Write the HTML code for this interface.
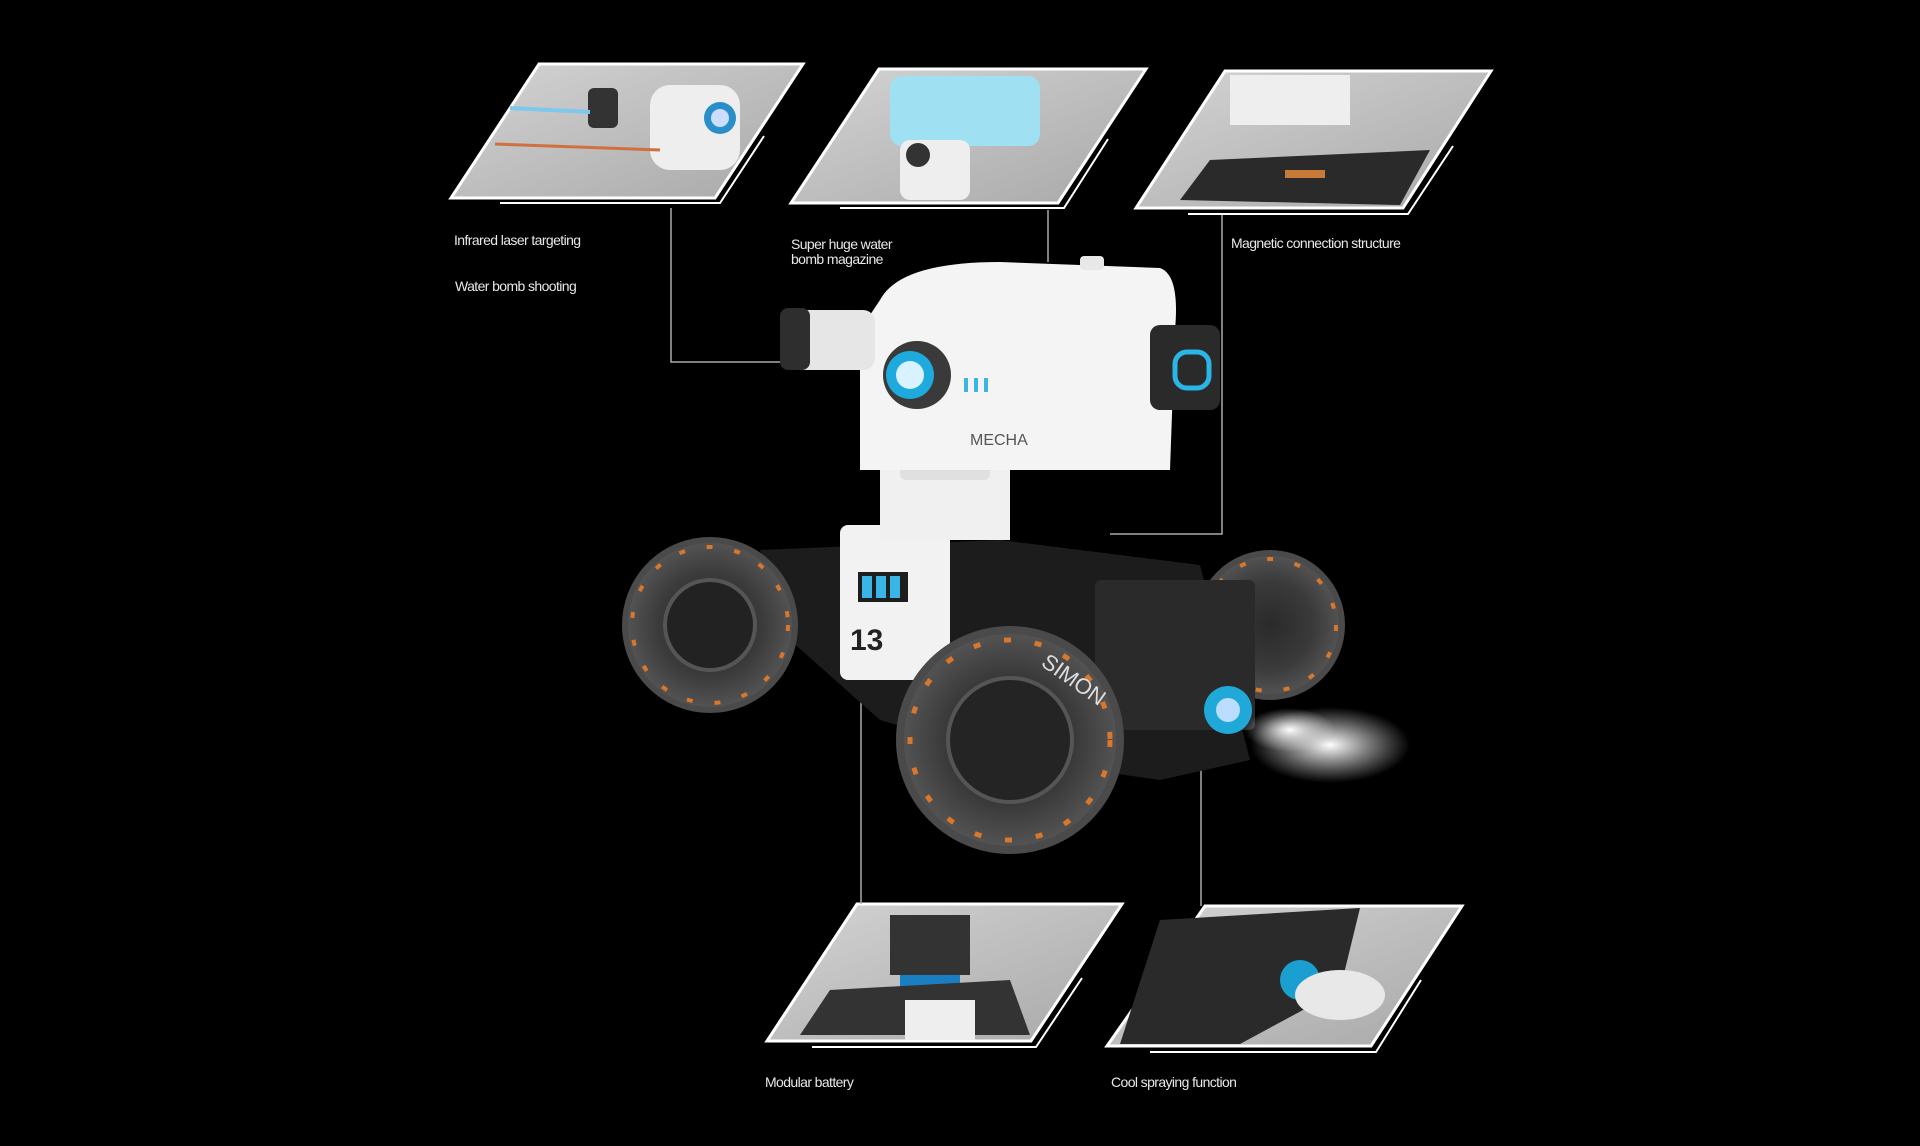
<!DOCTYPE html>
<html><head><meta charset="utf-8"><style>
html,body{margin:0;padding:0;background:#000;}
body{width:1920px;height:1146px;overflow:hidden;position:relative;font-family:"Liberation Sans Narrow","Liberation Sans",sans-serif;}
.l{position:absolute;color:#e8e8e8;font-size:14px;letter-spacing:-0.6px;line-height:15px;white-space:nowrap;}
svg{position:absolute;left:0;top:0;}
</style></head><body>
<svg width="1920" height="1146" viewBox="0 0 1920 1146">
<defs>
<linearGradient id="pg" x1="0" y1="0" x2="1" y2="1"><stop offset="0" stop-color="#d4d4d4"/><stop offset="1" stop-color="#a8a8a8"/></linearGradient>
<radialGradient id="wh" cx="0.5" cy="0.5" r="0.5"><stop offset="0" stop-color="#2a2a2a"/><stop offset="0.6" stop-color="#3a3a3a"/><stop offset="1" stop-color="#555"/></radialGradient>
<radialGradient id="cl" cx="0.5" cy="0.5" r="0.5"><stop offset="0" stop-color="#fff"/><stop offset="1" stop-color="#ddd" stop-opacity="0"/></radialGradient>
</defs>
<g stroke="#fff" stroke-width="3" fill="url(#pg)">
<polygon points="539,64 803,64 715,198 451,198"/>
<polygon points="879,69 1146,69 1058,203 791,203"/>
<polygon points="1225,71 1491,71 1403,208 1136,208"/>
<polygon points="857,904 1122,904 1031,1041 767,1041"/>
<polygon points="1205,906 1462,906 1371,1046 1107,1046"/>
</g>
<g stroke="#fff" stroke-width="2" fill="none">
<polyline points="764,136 720,203 500,203"/>
<polyline points="1108,139 1064,208 840,208"/>
<polyline points="1453,146 1408,214 1188,214"/>
<polyline points="1082,978 1036,1047 812,1047"/>
<polyline points="1421,980 1376,1052 1150,1052"/>
</g>
<rect x="650" y="85" width="90" height="85" rx="20" fill="#eee"/>
<circle cx="720" cy="118" r="16" fill="#2a8fc8"/><circle cx="720" cy="118" r="9" fill="#cdf"/>
<rect x="588" y="88" width="30" height="40" rx="6" fill="#333"/>
<line x1="495" y1="144" x2="660" y2="150" stroke="#d07040" stroke-width="3"/>
<line x1="510" y1="108" x2="590" y2="112" stroke="#7cc8ee" stroke-width="4"/>
<rect x="890" y="76" width="150" height="70" rx="12" fill="#9fe0f2"/>
<rect x="900" y="140" width="70" height="60" rx="10" fill="#eee"/>
<circle cx="918" cy="155" r="12" fill="#333"/>
<rect x="1230" y="75" width="120" height="50" fill="#eee"/>
<polygon points="1180,200 1210,160 1430,150 1400,205" fill="#2a2a2a"/>
<rect x="1285" y="170" width="40" height="8" fill="#c77a3a"/>
<rect x="890" y="915" width="80" height="60" fill="#333"/>
<rect x="900" y="975" width="60" height="25" fill="#1a7fc0"/>
<polygon points="800,1035 830,990 1010,980 1030,1035" fill="#333"/>
<rect x="905" y="1000" width="70" height="40" fill="#eee"/>
<polygon points="1120,1044 1160,920 1360,908 1340,990 1240,1044" fill="#2a2a2a"/>
<circle cx="1300" cy="980" r="20" fill="#1a9fd0"/>
<ellipse cx="1340" cy="995" rx="45" ry="25" fill="#e8e8e8"/>
<g stroke="#aaa" stroke-width="1.5" fill="none">
<polyline points="671,208 671,362 784,362"/>
<polyline points="1048,210 1048,262"/>
<polyline points="1222,215 1222,534 1110,534"/>
<polyline points="861,686 861,904"/>
<polyline points="1201,759 1201,906"/>
</g>
<polygon points="760,550 1000,540 1200,565 1250,760 1160,780 1020,760 880,720 790,640" fill="#1c1c1c"/>
<circle cx="710" cy="625" r="85" fill="url(#wh)" stroke="#4a4a4a" stroke-width="6"/>
<circle cx="710" cy="625" r="78" fill="none" stroke="#d9772c" stroke-width="4" stroke-dasharray="6 22"/>
<circle cx="710" cy="625" r="45" fill="#222" stroke="#555" stroke-width="4"/>
<circle cx="1270" cy="625" r="72" fill="url(#wh)" stroke="#4a4a4a" stroke-width="6"/>
<circle cx="1270" cy="625" r="66" fill="none" stroke="#d9772c" stroke-width="4" stroke-dasharray="6 22"/>
<rect x="840" y="525" width="110" height="155" rx="8" fill="#f2f2f2"/>
<rect x="858" y="572" width="50" height="30" fill="#1e1e1e"/>
<rect x="862" y="576" width="10" height="22" fill="#3ab6e6"/><rect x="876" y="576" width="10" height="22" fill="#3ab6e6"/><rect x="890" y="576" width="10" height="22" fill="#3ab6e6"/>
<text x="850" y="650" font-family="Liberation Sans" font-size="30" font-weight="bold" fill="#222">13</text>
<rect x="1095" y="580" width="160" height="150" rx="6" fill="#2a2a2a"/>
<circle cx="1010" cy="740" r="110" fill="url(#wh)" stroke="#4a4a4a" stroke-width="8"/>
<circle cx="1010" cy="740" r="100" fill="none" stroke="#d9772c" stroke-width="5" stroke-dasharray="7 24"/>
<circle cx="1010" cy="740" r="62" fill="#242424" stroke="#555" stroke-width="4"/>
<text x="1040" y="665" font-family="Liberation Sans" font-size="22" fill="#ddd" transform="rotate(35 1040 665)">SIMON</text>
<circle cx="1228" cy="710" r="24" fill="#1fa8d8"/><circle cx="1228" cy="710" r="12" fill="#bdf"/>
<ellipse cx="1330" cy="745" rx="80" ry="38" fill="url(#cl)"/>
<ellipse cx="1290" cy="730" rx="45" ry="22" fill="url(#cl)"/>
<rect x="880" y="470" width="130" height="70" fill="#f0f0f0"/>
<rect x="900" y="450" width="90" height="30" rx="6" fill="#e0e0e0"/>
<path d="M880,300 Q900,262 1000,262 L1160,268 Q1180,275 1175,330 L1170,470 L860,470 L860,330 Z" fill="#f4f4f4"/>
<rect x="1080" y="256" width="24" height="14" rx="4" fill="#e8e8e8"/>
<rect x="785" y="310" width="90" height="60" rx="12" fill="#e6e6e6"/>
<rect x="780" y="308" width="30" height="62" rx="8" fill="#2e2e2e"/>
<circle cx="917" cy="375" r="34" fill="#3a3a3a"/><circle cx="910" cy="375" r="24" fill="#1eaadd"/><circle cx="910" cy="375" r="14" fill="#d8f2ff"/>
<rect x="964" y="378" width="4" height="14" fill="#3ab6e6"/><rect x="974" y="378" width="4" height="14" fill="#3ab6e6"/><rect x="984" y="378" width="4" height="14" fill="#3ab6e6"/>
<rect x="1150" y="325" width="70" height="85" rx="10" fill="#2a2a2a"/>
<rect x="1175" y="352" width="34" height="36" rx="12" fill="none" stroke="#2bb4e6" stroke-width="5"/>
<text x="970" y="445" font-family="Liberation Sans" font-size="16" fill="#555">MECHA</text>
</svg>
<div class="l" style="left:454px;top:233px">Infrared laser targeting</div>
<div class="l" style="left:455px;top:279px">Water bomb shooting</div>
<div class="l" style="left:791px;top:237px">Super huge water<br>bomb magazine</div>
<div class="l" style="left:1231px;top:236px">Magnetic connection structure</div>
<div class="l" style="left:765px;top:1075px">Modular battery</div>
<div class="l" style="left:1111px;top:1075px">Cool spraying function</div>
</body></html>
